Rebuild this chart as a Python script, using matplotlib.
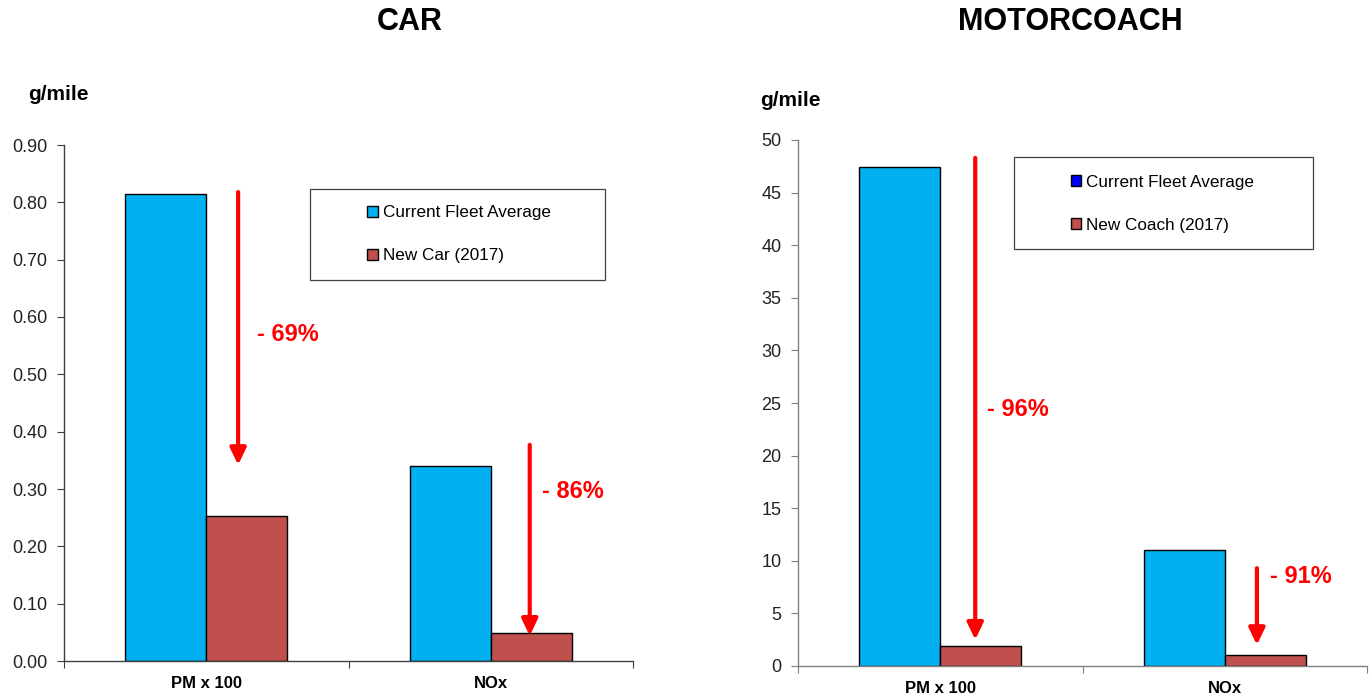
import numpy as np
import matplotlib.pyplot as plt
from matplotlib.patches import Patch, Rectangle
from matplotlib.ticker import FixedLocator, FormatStrFormatter

plt.rcParams['font.family'] = ['Liberation Sans', 'DejaVu Sans']

# data
categories = ['PM x 100', 'NOx']
car_current = [0.815, 0.340]
car_new = [0.253, 0.049]
coach_current = [47.4, 11.0]
coach_new = [1.9, 1.0]
car_reduction = ['- 69%', '- 86%']
coach_reduction = ['- 96%', '- 91%']

# arrow annotations: (x, y_start, y_end) in data units, and label (x, y)
car_arrows = [(0.112, 0.818, 0.342), (0.137, 0.377, 0.044)]
car_labels = [(0.18, 0.570), (0.18, 0.295)]
coach_arrows = [(0.123, 48.3, 2.5), (0.113, 9.3, 2.0)]
coach_labels = [(0.165, 24.4), (0.158, 8.5)]

BLUE = '#00B0F0'
RED = '#C0504D'

fig = plt.figure(figsize=(13.72, 6.98), dpi=100)
ax1 = fig.add_axes([64/1372, 1-661/698, 569/1372, 516/698])
ax2 = fig.add_axes([798/1372, 1-666/698, 569/1372, 526/698])


def draw_panel(ax, current, new, ylim, yticks, fmt, arrows, labels, texts,
               spine_color, legend_labels, legend_colors, frame, leg_anchor):
    x = np.arange(len(categories))
    w = 0.285
    ax.bar(x - w/2, current, w, color=BLUE, edgecolor='black', lw=1, zorder=2)
    ax.bar(x + w/2, new, w, color=RED, edgecolor='black', lw=1, zorder=2)
    ax.set_xlim(-0.5, len(categories) - 0.5)
    ax.set_ylim(*ylim)
    ax.set_yticks(yticks)
    ax.yaxis.set_major_formatter(FormatStrFormatter(fmt))
    ax.xaxis.set_major_locator(FixedLocator(np.arange(len(categories) + 1) - 0.5))
    ax.xaxis.set_major_formatter(plt.NullFormatter())
    ax.set_xticks(x, minor=True)
    ax.set_xticklabels(categories, minor=True, fontsize=12, fontweight='bold')
    ax.tick_params(axis='x', which='minor', length=0, pad=11)
    ax.tick_params(axis='x', which='major', length=5, color=spine_color)
    ax.tick_params(axis='y', length=5, pad=7, labelsize=13, color=spine_color,
                   labelcolor='#222222')
    for s in ['top', 'right']:
        ax.spines[s].set_visible(False)
    for s in ['left', 'bottom']:
        ax.spines[s].set_color(spine_color)
        ax.spines[s].set_linewidth(1)

    for (ax_x, y0, y1), (lx, ly), t, i in zip(arrows, labels, texts, x):
        ax.annotate('', xy=(i + ax_x, y1), xytext=(i + ax_x, y0),
                    arrowprops=dict(arrowstyle='-|>,head_width=0.24,head_length=0.5',
                                    color='red', lw=3, mutation_scale=20,
                                    shrinkA=0, shrinkB=0), zorder=3)
        ax.text(i + lx, ly, t, color='red', fontsize=17, fontweight='bold',
                ha='left', va='center')

    fx, fy, fw, fh = frame
    ax.add_patch(Rectangle((fx, fy), fw, fh, transform=ax.transAxes,
                           fill=False, edgecolor='#404040', lw=0.9, clip_on=False))
    handles = [Patch(facecolor=c, edgecolor='black', lw=1) for c in legend_colors]
    ax.legend(handles, legend_labels, loc='center left', bbox_to_anchor=leg_anchor,
              frameon=False, fontsize=12.3, borderpad=0, borderaxespad=0,
              handlelength=0.6, handleheight=0.6, handletextpad=0.3,
              labelspacing=1.65)


draw_panel(ax1, car_current, car_new, (0, 0.9), np.arange(0, 0.91, 0.1), '%.2f',
           car_arrows, car_labels, car_reduction, '#404040',
           ['Current Fleet Average', 'New Car (2017)'], [BLUE, RED],
           (0.432, 0.738, 0.519, 0.177), (0.533, 0.827))
draw_panel(ax2, coach_current, coach_new, (0, 50), np.arange(0, 51, 5), '%d',
           coach_arrows, coach_labels, coach_reduction, '#808080',
           ['Current Fleet Average', 'New Coach (2017)'], ['#0000FF', RED],
           (0.380, 0.793, 0.525, 0.175), (0.480, 0.879))

fig.text(410/1372, 1-22/698, 'CAR', ha='center', va='center', fontsize=22, fontweight='bold')
fig.text(1070/1372, 1-22/698, 'MOTORCOACH', ha='center', va='center', fontsize=22, fontweight='bold')
fig.text(28/1372, 1-95/698, 'g/mile', ha='left', va='center', fontsize=15, fontweight='bold')
fig.text(760/1372, 1-101/698, 'g/mile', ha='left', va='center', fontsize=15, fontweight='bold')

fig.savefig('out.png', dpi=100)
